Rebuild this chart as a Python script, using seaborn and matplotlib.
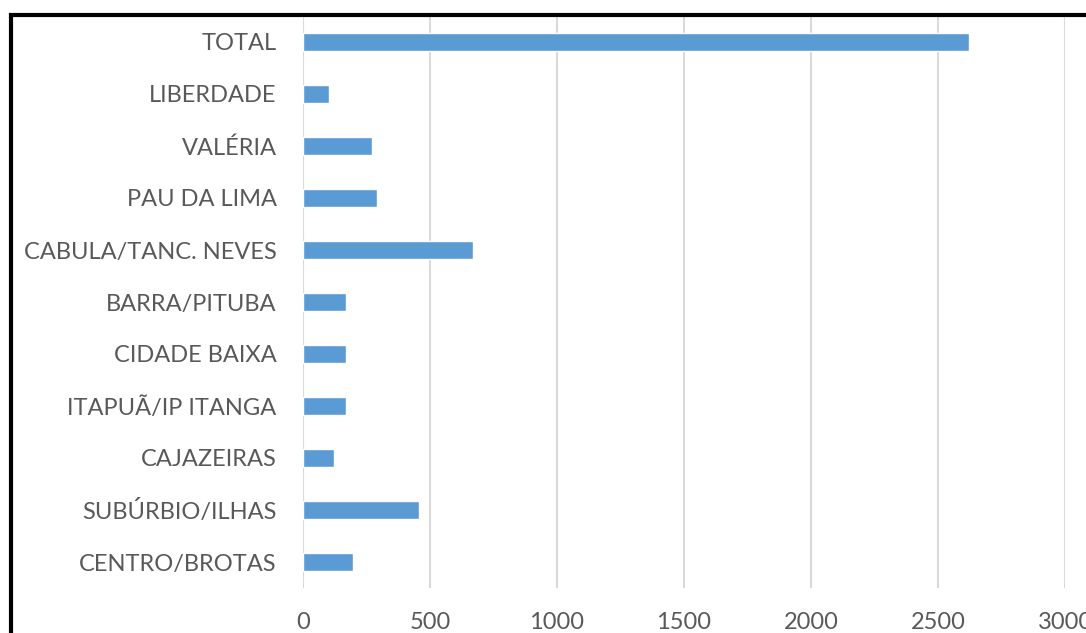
import matplotlib
matplotlib.use("Agg")
import matplotlib.pyplot as plt
import seaborn as sns
import pandas as pd
from matplotlib.patches import Rectangle

categories = ["TOTAL", "LIBERDADE", "VALÉRIA", "PAU DA LIMA", "CABULA/TANC. NEVES",
              "BARRA/PITUBA", "CIDADE BAIXA", "ITAPUÃ/IP ITANGA", "CAJAZEIRAS",
              "SUBÚRBIO/ILHAS", "CENTRO/BROTAS"]
values = [2622, 104, 272, 290, 669, 171, 171, 171, 123, 457, 196]
xticks = [0, 500, 1000, 1500, 2000, 2500, 3000]

df = pd.DataFrame({"cat": categories, "val": values})

sns.set_theme(style="white")
plt.rcParams['font.family'] = ['Lato', 'DejaVu Sans']

fig = plt.figure(figsize=(10.86, 6.33), dpi=100)
ax = fig.add_axes([303/1086, 1 - 588/633, (1065-303)/1086, (588-16)/633])

sns.barplot(data=df, x="val", y="cat", orient="h", color="#5B9BD5",
            saturation=1, width=0.35, ax=ax, order=categories)

ax.set_xlim(0, 3000)
ax.set_ylim(10.5, -0.5)
ax.set_xticks(xticks)
ax.set_xticklabels([str(t) for t in xticks])
ax.set_xlabel("")
ax.set_ylabel("")
for s in ax.spines.values():
    s.set_visible(False)
ax.grid(axis="x", color="#D9D9D9", linewidth=1.5)
ax.set_axisbelow(True)
ax.tick_params(axis="both", length=0, labelsize=17, labelcolor="#595959")
ax.tick_params(axis="y", pad=19)
ax.tick_params(axis="x", pad=17)
for lab in ax.get_xticklabels():
    lab.set_clip_on(False)

fig.patches.append(Rectangle((11/1086, -0.1), 1.2, 1 - 14.5/633 + 0.1,
                             transform=fig.transFigure, fill=False,
                             edgecolor="black", linewidth=3, clip_on=False))

fig.savefig("out.png", dpi=100)
